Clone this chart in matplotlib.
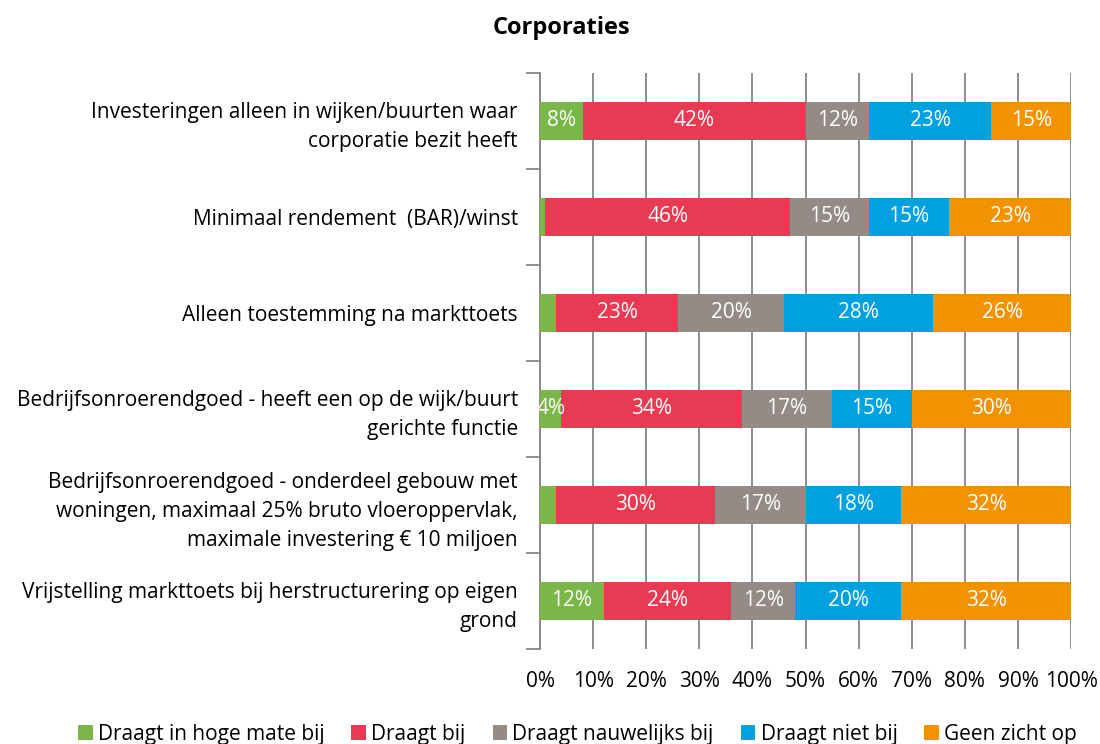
import matplotlib.pyplot as plt
import numpy as np

plt.rcParams['font.family'] = ['Open Sans', 'DejaVu Sans']

categories = [
    "Investeringen alleen in wijken/buurten waar\ncorporatie bezit heeft",
    "Minimaal rendement  (BAR)/winst",
    "Alleen toestemming na markttoets",
    "Bedrijfsonroerendgoed - heeft een op de wijk/buurt\ngerichte functie",
    "Bedrijfsonroerendgoed - onderdeel gebouw met\nwoningen, maximaal 25% bruto vloeroppervlak,\nmaximale investering \u20ac 10 miljoen",
    "Vrijstelling markttoets bij herstructurering op eigen\ngrond",
]
series_names = ["Draagt in hoge mate bij", "Draagt bij", "Draagt nauwelijks bij",
                "Draagt niet bij", "Geen zicht op"]
hoge_mate = [8, 1, 3, 4, 3, 12]
draagt_bij = [42, 46, 23, 34, 30, 24]
nauwelijks = [12, 15, 20, 17, 17, 12]
niet_bij = [23, 15, 28, 15, 18, 20]
geen_zicht = [15, 23, 26, 30, 32, 32]
# labels shown in the original (small green ones are hidden)
show_green = [True, False, False, True, False, True]

colors = ["#7AB648", "#E83A52", "#958B86", "#00A1E0", "#F39200"]

fig = plt.figure(figsize=(11, 7.44), dpi=100)
ax = fig.add_axes([0.491, 0.128, 0.4827, 0.774])

data = [hoge_mate, draagt_bij, nauwelijks, niet_bij, geen_zicht]
y = np.arange(len(categories))
left = np.zeros(len(categories))
for i, (vals, name, col) in enumerate(zip(data, series_names, colors)):
    vals = np.array(vals, dtype=float)
    ax.barh(y, vals, left=left, height=0.4, color=col, label=name, zorder=3)
    for j, v in enumerate(vals):
        if i == 0 and not show_green[j]:
            continue
        ax.text(left[j] + v / 2, y[j], f"{int(v)}%", ha='center', va='center',
                color='white', fontsize=15, zorder=4)
    left += vals

ax.set_xlim(0, 100)
ax.set_ylim(len(categories) - 0.5, -0.5)
ax.set_xticks(np.arange(0, 101, 10))
ax.set_xticklabels([f"{t}%" for t in range(0, 101, 10)], fontsize=15)
ax.set_yticks(y)
ax.set_yticklabels(categories, fontsize=15, linespacing=1.5)
ax.set_yticks(np.arange(-0.5, len(categories), 1), minor=True)
ax.tick_params(axis='y', which='major', length=0, pad=16)
ax.tick_params(axis='y', which='minor', length=10, color='#868686', width=1.3)
ax.tick_params(axis='x', length=0, pad=16)
ax.xaxis.grid(True, color='#868686', linewidth=1.3, zorder=0)
for s in ['top', 'right', 'bottom']:
    ax.spines[s].set_visible(False)
ax.spines['left'].set_color('#868686')
ax.spines['left'].set_linewidth(1.3)

fig.text(0.51, 0.963, "Corporaties", ha='center', va='center', fontsize=17, fontweight='bold')

handles, labels = ax.get_legend_handles_labels()
fig.legend(handles, labels, loc='center', bbox_to_anchor=(0.525, 0.013), ncol=5,
           frameon=False, fontsize=15, handlelength=0.7, handleheight=0.7,
           handletextpad=0.25, columnspacing=1.3)

fig.savefig("out.png", dpi=100)
